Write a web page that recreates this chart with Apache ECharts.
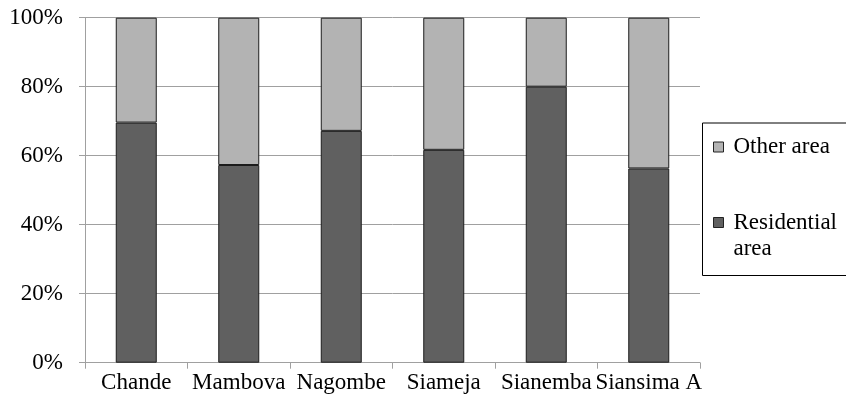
<!DOCTYPE html>
<html>
<head>
<meta charset="utf-8">
<script src="https://cdn.jsdelivr.net/npm/echarts@6/dist/echarts.min.js"></script>
<style>
  html, body { margin: 0; padding: 0; background: #fff; }
  #chart { width: 846px; height: 410px; }
</style>
</head>
<body>
<div id="chart"></div>
<script>
// Share of land use per village (percent of total area)
const villages = ['Chande', 'Mambova', 'Nagombe', 'Siameja', 'Sianemba', 'Siansima A'];
const residentialArea = [69.6, 57.3, 67.2, 61.7, 80.0, 56.3];
const otherArea = [30.4, 42.7, 32.8, 38.3, 20.0, 43.7];
const percentTicks = [0, 20, 40, 60, 80, 100];

const FONT = '"Liberation Serif", "Times New Roman", serif';
const FS = 23;
const GRID_GRAY = '#a0a0a0';

const chart = echarts.init(document.getElementById('chart'), null, { renderer: 'canvas' });

const legendIcon = { borderColor: '#222', borderWidth: 1 };

chart.setOption({
  animation: false,
  backgroundColor: '#fff',
  textStyle: { fontFamily: FONT, color: '#000' },
  grid: { left: 85, right: 146, top: 17.7, bottom: 47.3, containLabel: false },
  xAxis: {
    type: 'category',
    data: villages,
    boundaryGap: true,
    axisLine: { lineStyle: { color: GRID_GRAY, width: 1 } },
    axisTick: { show: true, length: 6, lineStyle: { color: GRID_GRAY } },
    axisLabel: { fontFamily: FONT, fontSize: FS, color: '#000', margin: 9, interval: 0 },
    splitLine: { show: false }
  },
  yAxis: {
    type: 'value',
    min: percentTicks[0],
    max: percentTicks[percentTicks.length - 1],
    interval: percentTicks[1] - percentTicks[0],
    axisLine: { show: true, lineStyle: { color: GRID_GRAY, width: 1 } },
    axisTick: { show: true, length: 6, lineStyle: { color: GRID_GRAY } },
    axisLabel: { fontFamily: FONT, fontSize: FS, color: '#000', margin: 22, formatter: '{value}%' },
    splitLine: { show: true, lineStyle: { color: GRID_GRAY, width: 1 } }
  },
  legend: [
    {
      data: ['Other area'],
      orient: 'vertical',
      left: 713,
      top: 134,
      padding: 0,
      itemWidth: 10,
      itemHeight: 10,
      icon: 'rect',
      itemStyle: legendIcon,
      selectedMode: false,
      textStyle: { fontFamily: FONT, fontSize: FS, color: '#000', lineHeight: 26, padding: [0, 0, 0, 5] }
    },
    {
      data: ['Residential area'],
      orient: 'vertical',
      left: 713,
      top: 183.5,
      padding: 0,
      itemWidth: 10,
      itemHeight: 10,
      icon: 'rect',
      itemStyle: legendIcon,
      selectedMode: false,
      // leading blank line keeps the first text line level with the swatch
      formatter: function () { return ' \nResidential\narea'; },
      textStyle: { fontFamily: FONT, fontSize: FS, color: '#000', lineHeight: 26, padding: [0, 0, 0, 5] }
    }
  ],
  graphic: [
    {
      type: 'rect',
      left: 700,
      top: 120.5,
      shape: { width: 145, height: 152.5 },
      style: { fill: 'none', stroke: '#000', lineWidth: 1 },
      z: 10
    }
  ],
  series: [
    {
      name: 'Residential area',
      type: 'bar',
      stack: 'area',
      barWidth: '40%',
      data: residentialArea,
      itemStyle: { color: '#606060', borderColor: '#1c1c1c', borderWidth: 1 }
    },
    {
      name: 'Other area',
      type: 'bar',
      stack: 'area',
      barWidth: '40%',
      data: otherArea,
      itemStyle: { color: '#b3b3b3', borderColor: '#1c1c1c', borderWidth: 1 }
    }
  ]
});
</script>
</body>
</html>
